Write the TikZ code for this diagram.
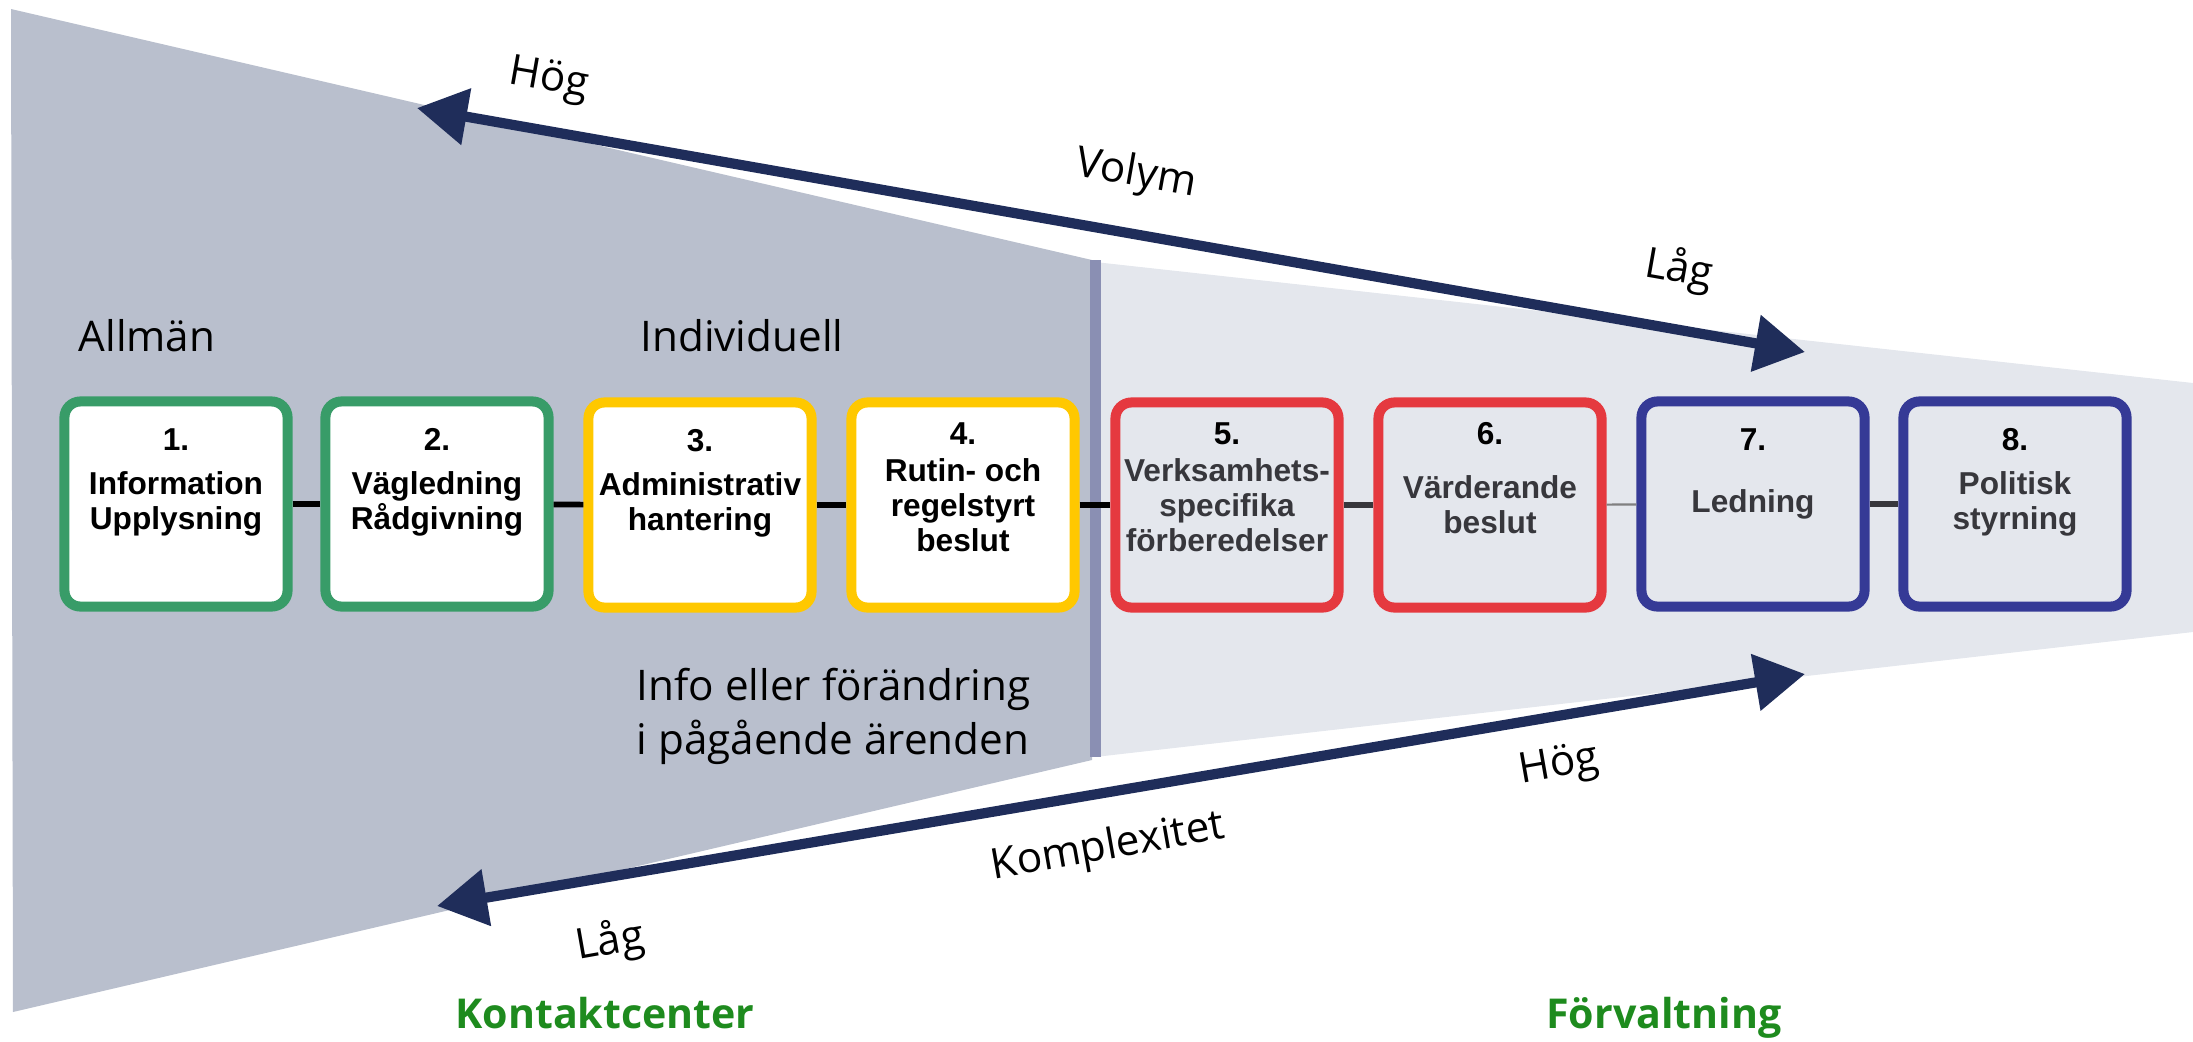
\documentclass[tikz,border=0pt]{standalone}
\usepackage{fontspec}
\setmainfont{Open Sans}
\newfontfamily\arialfont{Liberation Sans}
\usepackage{tikz}
\usetikzlibrary{arrows.meta}
\definecolor{darkbg}{RGB}{185,191,205}
\definecolor{lightbg}{RGB}{228,231,237}
\definecolor{barcol}{RGB}{138,143,179}
\definecolor{axiscol}{RGB}{31,45,90}
\definecolor{stgreen}{RGB}{56,156,104}
\definecolor{styellow}{RGB}{255,200,0}
\definecolor{stred}{RGB}{229,57,63}
\definecolor{stblue}{RGB}{53,58,150}
\definecolor{unitgreen}{RGB}{30,139,30}
\definecolor{greytext}{RGB}{55,55,60}

\begin{document}
\begin{tikzpicture}[x=0.01cm, y=-0.01cm, every node/.style={inner sep=0pt}]
	\tikzset{stage/.style={line width=2.85pt, rounded corners=0.16cm, minimum width=2.23cm, minimum height=2.05cm, align=center, font=\arialfont\bfseries\fontsize{9}{10}\selectfont}}
	\tikzset{num/.style={font=\arialfont\bfseries\fontsize{9}{10}\selectfont}}
	\tikzset{link/.style={line width=1.6pt}}
	\tikzset{axis/.style={draw=axiscol, line width=2.9pt, {Triangle[length=0.5cm,width=0.55cm]}-{Triangle[length=0.5cm,width=0.55cm]}}}
	\tikzset{lbl/.style={font=\fontsize{12}{15.6}\selectfont}}
	\tikzset{unit/.style={font=\bfseries\fontsize{11.7}{14}\selectfont, text=unitgreen}}
	\useasboundingbox (0,0) rectangle (2193,1041);
	% background funnel
	\fill[darkbg] (11,9) -- (1092,260) -- (1092,760) -- (13,1012) -- cycle;
	\fill[lightbg] (1095,262) -- (2193,383) -- (2193,632) -- (1095,757) -- cycle;
	\fill[barcol] (1090,260) rectangle (1101,757);
	% stages
	\node[stage, draw=stgreen, fill=white] (b1) at (176,504) {Information\\Upplysning};
	\node[stage, draw=stgreen, fill=white] (b2) at (437,504) {Vägledning\\Rådgivning};
	\node[stage, draw=styellow, fill=white] (b3) at (700,505) {Administrativ\\hantering};
	\node[stage, draw=styellow, fill=white] (b4) at (963,505) {Rutin- och\\regelstyrt\\beslut};
	\node[stage, draw=stred, text=greytext] (b5) at (1227,505) {Verksamhets-\\specifika\\förberedelser};
	\node[stage, draw=stred, text=greytext] (b6) at (1490,505) {Värderande\\beslut};
	\node[stage, draw=stblue, text=greytext] (b7) at (1753,504) {Ledning};
	\node[stage, draw=stblue, text=greytext] (b8) at (2015,504) {Politisk\\styrning};
	\node[num] (n1) at ([yshift=-0.43cm]b1.north) {1.};
	\node[num] (n2) at ([yshift=-0.43cm]b2.north) {2.};
	\node[num] (n3) at ([yshift=-0.43cm]b3.north) {3.};
	\node[num] (n4) at ([yshift=-0.36cm]b4.north) {4.};
	\node[num] (n5) at ([yshift=-0.36cm]b5.north) {5.};
	\node[num] (n6) at ([yshift=-0.36cm]b6.north) {6.};
	\node[num] (n7) at ([yshift=-0.43cm]b7.north) {7.};
	\node[num] (n8) at ([yshift=-0.43cm]b8.north) {8.};
	\draw[link] (b1) -- (b2);
	\draw[link] (b2) -- (b3);
	\draw[link] (b3) -- (b4);
	\draw[link] (b4) -- (b5);
	\draw[link, draw=greytext] (b5) -- (b6);
	\draw[line width=0.6pt, draw=gray] (b6) -- (b7);
	\draw[link, draw=greytext] (b7) -- (b8);
	% axes
	\coordinate (vHi) at (417,108);
	\coordinate (vLo) at (1805,352);
	\coordinate (kLo) at (437,906);
	\coordinate (kHi) at (1805,674);
	\draw[axis] (vHi) -- (vLo);
	\draw[axis] (kLo) -- (kHi);
	\node[lbl, rotate=-10] (hog1) at (549,80) {Hög};
	\node[lbl, rotate=-10] (volym) at (1136,175) {Volym};
	\node[lbl, rotate=-10] (lag1) at (1679,270) {Låg};
	\node[lbl, rotate=10] (hog2) at (1559,766) {Hög};
	\node[lbl, rotate=10] (komplex) at (1108,848) {Komplexitet};
	\node[lbl, rotate=10] (lag2) at (610,942) {Låg};
	% texts
	\node[lbl] (allman) at (147,336) {Allmän};
	\node[lbl] (indiv) at (742,336) {Individuell};
	\node[lbl, align=left, anchor=north west] (info) at (636,667) {Info eller förändring\\i pågående ärenden};
	\node[unit] (kontakt) at (605,1013) {Kontaktcenter};
	\node[unit] (forv) at (1664,1018) {Förvaltning};
\end{tikzpicture}
\end{document}
